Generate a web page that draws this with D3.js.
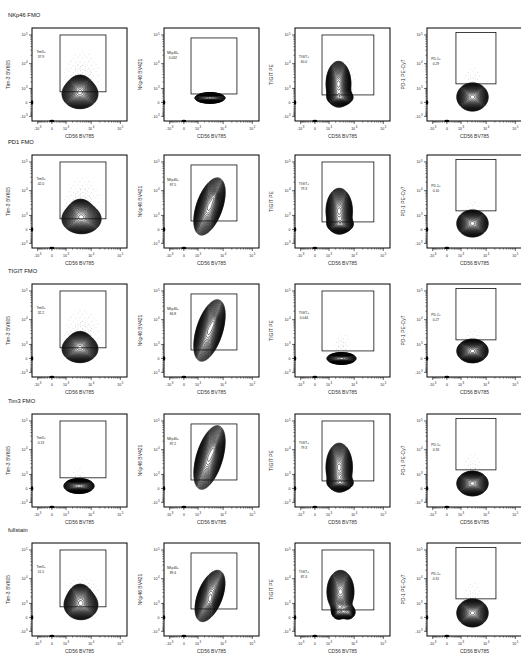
<!DOCTYPE html>
<html><head><meta charset="utf-8">
<script src="https://cdn.jsdelivr.net/npm/d3@7"></script>
<style>body{margin:0;background:#fff} svg{display:block} text{font-family:"Liberation Sans",Arial,sans-serif}</style>
</head><body><svg id="c" width="521" height="654"></svg>
<script>
// ---------- data ----------
const rowTitles = ["NKp46 FMO","PD1 FMO","TIGIT FMO","Tim3 FMO","fullstain"];
const xTitle = "CD56 BV785";
const yTitles = ["Tim-3 BV605","NKp46 BV421","TIGIT PE","PD-1 PE-Cy7"];
const gateNames = ["Tim3+","NKp46+","TIGIT+","PD-1+"];
const gateValues = [
  ["37.9","0.062","60.0","0.29"],
  ["42.0","87.5","79.3","0.10"],
  ["32.2","84.8","0.044","0.27"],
  ["0.13","87.2","79.3","0.33"],
  ["51.5","89.4","87.4","0.31"]];
// gate rectangles per column: [CD56 min, CD56 max, marker min, marker max]
const gates = [[440,32500,650,100000],[370,30000,470,79000],[370,47700,400,100000],[510,21900,1650,122000]];
const tickValues = [-1000,0,1000,10000,100000];
const tickLabels = [["-10","3"],["0",""],["10","3"],["10","4"],["10","5"]];
const minorTicks = [-900,-800,-700,-600,-500,-400,-300,-200,-100,100,200,300,400,500,600,700,800,900,
  2000,3000,4000,5000,6000,7000,8000,9000,20000,30000,40000,50000,60000,70000,80000,90000];
// population components per panel: [CD56 lo, CD56 hi, marker lo, marker hi, weight, correlation]
const nkp46FmoPops = [
  [[681,16000,-274,2415,1,0],[1245,10700,206,4150,0.4,0]],
  [[780,10700,-21,548,1,0]],
  [[780,7100,-111,10600,1,0],[881,9050,-111,826,0.6,0]],
  [[681,10700,-411,1630,1,0]]];
const pd1FmoPops = [
  [[681,20400,-161,2910,1,0],[1245,11600,329,5420,0.4,0]],
  [[681,10700,-161,23800,1,0.5],[3000,7500,3000,12000,0.25,0.3]],
  [[780,8000,-111,10600,1,0],[881,9050,-111,826,0.6,0]],
  [[681,10700,-341,1630,1,0]]];
const tigitFmoPops = [
  [[681,16000,-161,2415,1,0],[1245,10700,206,4150,0.35,0]],
  [[681,10700,-21,41700,1,0.5],[3000,7500,4000,20000,0.25,0.3]],
  [[881,10700,-274,266,1,0]],
  [[681,10700,-161,1630,1,0]]];
const tim3FmoPops = [
  [[881,11600,-216,548,1,0]],
  [[681,10700,59,57300,1,0.5],[3000,7500,5000,25000,0.25,0.3]],
  [[780,8000,-64,14700,1,0],[881,9050,-64,826,0.6,0]],
  [[681,10700,-341,1316,1,0]]];
const fullstainPops = [
  [[881,16000,-64,3490,1,0],[1245,10700,467,6980,0.45,0]],
  [[780,10700,-111,17300,1,0.5],[2000,6000,300,3000,0.2,0.3]],
  [[881,9050,300,17300,1,0],[1245,5000,-111,900,0.35,0],[3000,11600,-111,900,0.35,0]],
  [[681,10700,-477,1470,1,0]]];
const populations = [nkp46FmoPops, pd1FmoPops, tigitFmoPops, tim3FmoPops, fullstainPops];
// sparse outlier events region per panel: [CD56 lo, CD56 hi, marker lo, marker hi]
const sparseEvents = [
  [[600,25000,-200,35600],null,[700,12000,-300,20000],[1000,9000,-600,9000]],
  [[600,25000,-200,41700],[1500,15000,1000,40000],[700,12000,-300,20000],[1000,9000,-600,6000]],
  [[600,25000,-200,30000],[1500,15000,2000,60000],[1500,8000,-300,4000],[1000,9000,-600,6000]],
  [[1500,8000,-300,2500],[1500,15000,2000,80000],[700,12000,-300,25000],[1000,9000,-600,9000]],
  [[700,25000,0,15000],[1500,15000,1000,30000],[700,12000,-300,25000],[1000,9000,-600,9000]]];

// ---------- layout ----------
const colX = [32,164,295,427];
const rowY = [28,155,284,414,543];
const W = 95, H = 93;
const svg = d3.select("#c");
const defs = svg.append("defs");
const patA = defs.append("pattern").attr("id","dotsA").attr("width",9).attr("height",7).attr("patternUnits","userSpaceOnUse");
[[1,1],[5.5,2.5],[3,5.2],[7.6,6]].forEach(([a,b])=>patA.append("circle").attr("cx",a).attr("cy",b).attr("r",0.35).attr("fill","#8a8a8a"));
const patB = defs.append("pattern").attr("id","dotsB").attr("width",5).attr("height",4).attr("patternUnits","userSpaceOnUse");
[[1,1],[3.5,2.8]].forEach(([a,b])=>patB.append("circle").attr("cx",a).attr("cy",b).attr("r",0.35).attr("fill","#777"));

const x = d3.scaleSymlog().constant(500).domain([-1830,168000]).range([0,W]);
const y = d3.scaleSymlog().constant(500).domain([-1660,173500]).range([H,0]);
const RES = 2;
const nLev = 30;
const levels = d3.range(nLev).map(i => 0.045*Math.pow(0.94/0.045, i/(nLev-1)));

function densityGrid(comps, spreadDiv){
  const n = W*RES, m = H*RES;
  const vals = new Float64Array(n*m);
  comps.forEach(cp => {
    const [x0,x1,y0,y1] = cp; const w = cp.length>4 ? cp[4] : 1; const rho = cp.length>5 ? cp[5] : 0;
    const cx = (x(x0)+x(x1))/2*RES, cy = (y(y0)+y(y1))/2*RES;
    const sx = Math.abs(x(x1)-x(x0))/2/spreadDiv*RES, sy = Math.abs(y(y1)-y(y0))/2/spreadDiv*RES;
    const k = 1/(1-rho*rho);
    for (let j=0;j<m;j++) for (let i=0;i<n;i++){
      const dx=(i+0.5-cx)/sx, dy=-(j+0.5-cy)/sy;
      vals[j*n+i] += w*Math.exp(-0.5*k*(dx*dx+dy*dy-2*rho*dx*dy));
    }
  });
  return {vals,n,m};
}

function supText(g, parts, attrs){
  const t = g.append("text");
  Object.entries(attrs).forEach(([k,v])=>t.attr(k,v));
  t.append("tspan").text(parts[0]);
  if (parts[1]) t.append("tspan").attr("font-size",2.8).attr("dy",-1.6).attr("dx",0.6).text(parts[1]);
  return t;
}

rowTitles.forEach((rt, r) => {
  svg.append("text").attr("x",8).attr("y",rowY[r]-11).attr("font-size",5.8).attr("fill","#111").text(rt);
  for (let c=0;c<4;c++){
    const g = svg.append("g").attr("transform",`translate(${colX[c]},${rowY[r]})`);
    const clipId = `clip${r}${c}`;
    g.append("clipPath").attr("id",clipId).append("rect").attr("width",W).attr("height",H);
    const plot = g.append("g").attr("clip-path",`url(#${clipId})`);
    const path = d3.geoPath().projection(d3.geoTransform({point(px,py){this.stream.point(px/RES,py/RES);}}));
    // sparse events
    const sp = sparseEvents[r][c];
    if (sp){
      const d = densityGrid([sp],2.2);
      const mx = d3.max(d.vals);
      const cs = d3.contours().size([d.n,d.m]).thresholds([0.15,0.55].map(t=>t*mx))(d.vals);
      plot.selectAll("path.sp").data(cs).join("path").attr("class","sp").attr("d",path)
        .attr("fill",(dd,i)=>i===0?"url(#dotsA)":"url(#dotsB)").attr("stroke","none");
    }
    // contours
    const d = densityGrid(populations[r][c],2.3);
    const mx = d3.max(d.vals);
    const cs = d3.contours().size([d.n,d.m]).thresholds(levels.map(t=>t*mx))(d.vals);
    plot.append("path").datum(cs[0]).attr("d",path).attr("fill","#fff");
    plot.selectAll("path.ct").data(cs).join("path").attr("class","ct").attr("d",path)
      .attr("fill","none").attr("stroke","#000").attr("stroke-width",0.62);
    // events piled on axes
    g.append("ellipse").attr("cx",0).attr("cy",y(0)).attr("rx",1.3).attr("ry",2.2).attr("fill","#000");
    g.append("ellipse").attr("cx",x(0)).attr("cy",H).attr("rx",2.4).attr("ry",1.2).attr("fill","#000");
    // gate
    const gt = gates[c];
    g.append("rect").attr("x",x(gt[0])).attr("y",y(gt[3])).attr("width",x(gt[1])-x(gt[0])).attr("height",y(gt[2])-y(gt[3]))
      .attr("fill","none").attr("stroke","#111").attr("stroke-width",0.8);
    const ly = [24,25,29,31][c];
    g.append("text").attr("x",9).attr("y",ly+1.2).attr("text-anchor","middle").attr("font-size",3.3).attr("fill","#222").text(gateNames[c]);
    g.append("text").attr("x",9).attr("y",ly+5.6).attr("text-anchor","middle").attr("font-size",3.3).attr("fill","#222").text(gateValues[r][c]);
    // frame
    g.append("rect").attr("width",W).attr("height",H).attr("fill","none").attr("stroke","#000").attr("stroke-width",1);
    // axis ticks
    tickValues.forEach((v,i)=>{
      g.append("line").attr("x1",-3).attr("x2",0).attr("y1",y(v)).attr("y2",y(v)).attr("stroke","#000").attr("stroke-width",0.6);
      supText(g, tickLabels[i], {x:-4.5, y:y(v)+1.2, "text-anchor":"end", "font-size":3.5, fill:"#222"});
      g.append("line").attr("y1",H).attr("y2",H+3).attr("x1",x(v)).attr("x2",x(v)).attr("stroke","#000").attr("stroke-width",0.6);
      supText(g, tickLabels[i], {x:x(v), y:H+8.5, "text-anchor":"middle", "font-size":3.5, fill:"#222"});
    });
    minorTicks.forEach(v=>{
      g.append("line").attr("x1",-1.8).attr("x2",0).attr("y1",y(v)).attr("y2",y(v)).attr("stroke","#000").attr("stroke-width",0.4);
      g.append("line").attr("y1",H).attr("y2",H+1.8).attr("x1",x(v)).attr("x2",x(v)).attr("stroke","#000").attr("stroke-width",0.4);
    });
    g.append("text").attr("x",W/2).attr("y",H+17).attr("text-anchor","middle").attr("font-size",5).attr("fill","#333").text(xTitle);
    g.append("text").attr("transform",`translate(-22,${H/2}) rotate(-90)`).attr("text-anchor","middle").attr("font-size",5).attr("fill","#333").text(yTitles[c]);
  }
});
</script></body></html>
